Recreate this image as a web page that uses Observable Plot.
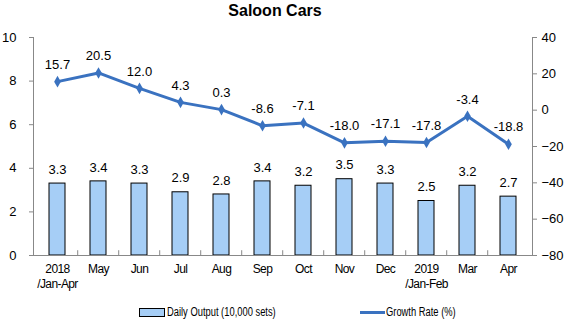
<!DOCTYPE html>
<html>
<head>
<meta charset="utf-8">
<script src="https://cdn.jsdelivr.net/npm/d3@7"></script>
<script src="https://cdn.jsdelivr.net/npm/@observablehq/plot@0.6"></script>
<style>
  html, body { margin: 0; padding: 0; background: #fff; }
  #wrap { width: 568px; height: 322px; position: relative; font-family: Arial, "Liberation Sans", sans-serif; color: #000; }
  #title { height: 22px; line-height: 22px; font-size: 16px; font-weight: bold; text-align: center; padding-right: 18px; box-sizing: border-box; width: 568px; }
  #chart { position: relative; width: 568px; height: 278px; }
  #chart svg { position: absolute; left: 0; top: 0; }
  #chart g[aria-label="x-axis tick label"] text { letter-spacing: -0.6px; }
  #legend { position: relative; height: 22px; width: 568px; font-family: Arial, "Liberation Sans", sans-serif; font-size: 12px; }
  .sw-bar { position: absolute; left: 139px; top: 8px; width: 24px; height: 7px; background: #a6cef6; border: 1px solid #000; }
  .sw-line { position: absolute; left: 360px; top: 11px; width: 25px; height: 3px; background: #3a72c0; }
  .lt { position: absolute; top: 5px; line-height: 14px; white-space: nowrap; transform: scaleX(0.78); transform-origin: left center; }
</style>
</head>
<body>
<div id="wrap">
  <div id="title">Saloon Cars</div>
  <div id="chart"></div>
  <div id="legend">
    <div class="sw-bar"></div><div class="lt" style="left:167px">Daily Output (10,000 sets)</div>
    <div class="sw-line"></div><div class="lt" style="left:386px">Growth Rate (%)</div>
  </div>
</div>
<script>
const categories = ["2018 Jan-Apr", "May", "Jun", "Jul", "Aug", "Sep", "Oct", "Nov", "Dec", "2019 Jan-Feb", "Mar", "Apr"];
const tickLabels = ["2018\n/Jan-Apr", "May", "Jun", "Jul", "Aug", "Sep", "Oct", "Nov", "Dec", "2019\n/Jan-Feb", "Mar", "Apr"];
const dailyOutput = [3.3, 3.4, 3.3, 2.9, 2.8, 3.4, 3.2, 3.5, 3.3, 2.5, 3.2, 2.7];
const growthRate = [15.7, 20.5, 12.0, 4.3, 0.3, -8.6, -7.1, -18.0, -17.1, -17.8, -3.4, -18.8];
const leftTicks = [0, 2, 4, 6, 8, 10];
const rightTicks = [-80, -60, -40, -20, 0, 20, 40];

const data = categories.map((c, i) => ({cat: c, output: dailyOutput[i], growth: growthRate[i], label: tickLabels[i]}));
const labelOf = new Map(categories.map((c, i) => [c, tickLabels[i]]));

const W = 568, H = 278, mT = 15, mB = 45, mL = 33, mR = 36;
const step = (W - mL - mR) / categories.length;
const axisGray = "#888";
const barFill = "#a6cef6";
const lineColor = "#3a72c0";

const xScale = {domain: categories, paddingInner: 0.6, paddingOuter: 0.3};
const baseStyle = {fontFamily: "Arial, 'Liberation Sans', sans-serif", fontSize: "12px", background: "transparent", color: "#000"};

const bars = Plot.plot({
  width: W, height: H, marginTop: mT, marginBottom: mB, marginLeft: mL, marginRight: mR,
  style: baseStyle,
  x: {...xScale, axis: null},
  y: {domain: [0, 10], axis: null},
  marks: [
    Plot.barY(data, {x: "cat", y: "output", fill: barFill, stroke: "#000", strokeWidth: 1}),
    Plot.text(data, {x: "cat", y: "output", text: d => d.output.toFixed(1), dy: -14, fontSize: 13}),
    Plot.ruleX(categories.slice(1), {x: d => d, dx: -step / 2, y1: 0, y2: 0.22, stroke: axisGray}),
    Plot.ruleY([0], {stroke: axisGray}),
    Plot.frame({anchor: "left", stroke: axisGray}),
    Plot.axisY(leftTicks, {anchor: "left", tickSize: 4, tickPadding: 13, stroke: axisGray, fontSize: 13, label: null}),
    Plot.axisX(categories, {anchor: "bottom", tickSize: 0, tickPadding: 7, tickFormat: d => labelOf.get(d), fontSize: 12, lineHeight: 1.25, label: null})
  ]
});

const line = Plot.plot({
  width: W, height: H, marginTop: mT, marginBottom: mB, marginLeft: mL, marginRight: mR,
  style: baseStyle,
  x: {...xScale, axis: null},
  y: {domain: [-80, 40], axis: null},
  marks: [
    Plot.frame({anchor: "right", stroke: axisGray}),
    Plot.axisY(rightTicks, {anchor: "right", tickSize: 4, tickPadding: 5, stroke: axisGray, fontSize: 13, label: null}),
    Plot.line(data, {x: "cat", y: "growth", stroke: lineColor, strokeWidth: 3}),
    Plot.dot(data, {x: "cat", y: "growth", symbol: "diamond", fill: lineColor, r: 3.5}),
    Plot.text(data, {x: "cat", y: "growth", text: d => d.growth.toFixed(1), dy: -17, fontSize: 13})
  ]
});

const chart = document.getElementById("chart");
chart.appendChild(bars);
chart.appendChild(line);
</script>
</body>
</html>
